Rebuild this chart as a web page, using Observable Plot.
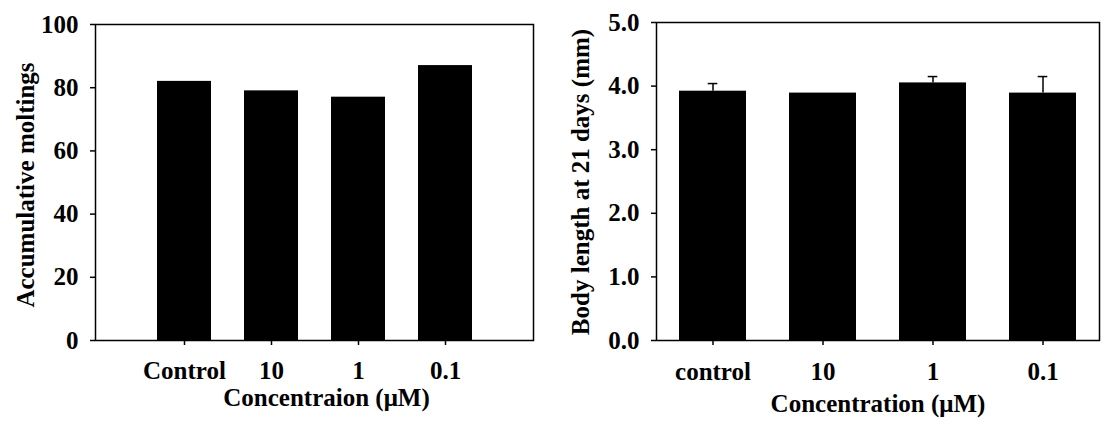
<!DOCTYPE html>
<html><head><meta charset="utf-8">
<script src="https://cdn.jsdelivr.net/npm/d3@7"></script>
<script src="https://cdn.jsdelivr.net/npm/@observablehq/plot@0.6"></script>
<style>
body{margin:0;background:#fff;}
#wrap{display:flex;width:1107px;height:424px;}
#wrap svg{display:block;}
</style></head><body><div id="wrap"></div>
<script>
const moltCategories = ["Control", "10", "1", "0.1"];
const moltValues = [82, 79, 77, 87];
const moltTicks = [0, 20, 40, 60, 80, 100];
const lenCategories = ["control", "10", "1", "0.1"];
const lenValues = [3.92, 3.89, 4.05, 3.89];
const lenErrors = [0.12, 0, 0.10, 0.26];
const lenTicks = [0, 1, 2, 3, 4, 5];
const leftYLabel = "Accumulative moltings";
const leftXLabel = "Concentraion (\u03BCM)";
const rightYLabel = "Body length at 21 days (mm)";
const rightXLabel = "Concentration (\u03BCM)";

const moltData = moltCategories.map((c, i) => ({c, v: moltValues[i]}));
const lenData = lenCategories.map((c, i) => ({c, v: lenValues[i], e: lenErrors[i]}));
const errData = lenData.filter(d => d.e > 0);

const fontStyle = "font-family:'Liberation Serif','Times New Roman',serif;font-size:25px;font-weight:bold;color:#000;background:#fff;overflow:visible;";

const left = Plot.plot({
  width: 600, height: 424,
  marginLeft: 95, marginRight: 67, marginTop: 24, marginBottom: 84,
  style: fontStyle,
  x: {type: "band", domain: moltCategories, paddingInner: 0.384, paddingOuter: 0.692},
  y: {domain: [0, 100]},
  marks: [
    Plot.barY(moltData, {x: "c", y: "v", fill: "black"}),
    Plot.frame({stroke: "black", strokeWidth: 1.5}),
    Plot.axisY(moltTicks, {tickSize: 5, tickPadding: 12, label: null, strokeWidth: 1.5}),
    Plot.axisX({tickSize: 5, tickPadding: 16, label: null, strokeWidth: 1.5}),
    Plot.text([leftYLabel], {text: d => d, frameAnchor: "left", rotate: -90, dx: -69.5, dy: 2.5, textAnchor: "middle", lineAnchor: "middle"}),
    Plot.text([leftXLabel], {text: d => d, frameAnchor: "bottom", dx: 12, dy: 57, textAnchor: "middle", lineAnchor: "middle"})
  ]
});

const right = Plot.plot({
  width: 507, height: 424,
  marginLeft: 56, marginRight: 8, marginTop: 22, marginBottom: 84,
  style: fontStyle,
  x: {type: "band", domain: lenCategories, paddingInner: 0.392, paddingOuter: 0.196},
  y: {domain: [0, 5]},
  marks: [
    Plot.barY(lenData, {x: "c", y: "v", fill: "black"}),
    Plot.ruleX(errData, {x: "c", y1: "v", y2: d => d.v + d.e, stroke: "black", strokeWidth: 1.5}),
    Plot.tickY(errData, {x: "c", y: d => d.v + d.e, insetLeft: 28.7, insetRight: 28.7, stroke: "black", strokeWidth: 1.5}),
    Plot.frame({stroke: "black", strokeWidth: 1.5}),
    Plot.axisY(lenTicks, {tickSize: 5, tickPadding: 12, label: null, tickFormat: d3.format(".1f"), strokeWidth: 1.5}),
    Plot.axisX({tickSize: 5, tickPadding: 17, label: null, strokeWidth: 1.5}),
    Plot.text([rightYLabel], {text: d => d, frameAnchor: "left", rotate: -90, dx: -76, dy: 0.5, textAnchor: "middle", lineAnchor: "middle"}),
    Plot.text([rightXLabel], {text: d => d, frameAnchor: "bottom", dx: 0, dy: 63, textAnchor: "middle", lineAnchor: "middle"})
  ]
});

document.getElementById("wrap").append(left, right);
</script>
</body></html>
